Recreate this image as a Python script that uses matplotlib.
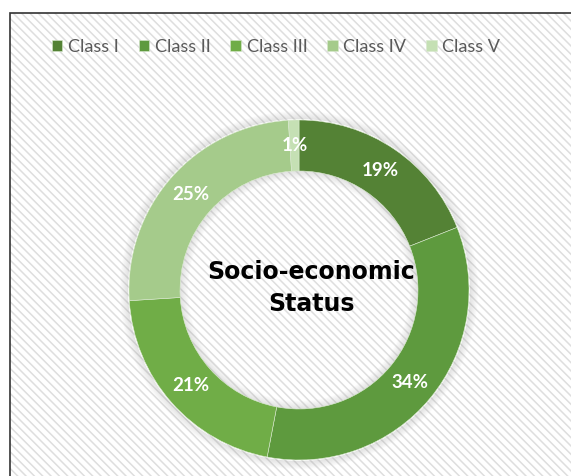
import matplotlib.pyplot as plt
from matplotlib.patches import Rectangle, Wedge

# socio-economic status split
classes = ['Class I', 'Class II', 'Class III', 'Class IV', 'Class V']
shares = [19, 34, 21, 25, 1]
colors = ['#548235', '#5e9a3e', '#70ad47', '#a5cb8b', '#c5e0b4']

plt.rcParams['hatch.linewidth'] = 1.1

fig = plt.figure(figsize=(5.71, 4.76), dpi=100)
ax = fig.add_axes([0, 0, 1, 1])
ax.set_xlim(0, 571)
ax.set_ylim(0, 476)
ax.set_aspect('equal')
ax.axis('off')

# striped chart area with dark border
ax.add_patch(Rectangle((10, -20), 600, 483, facecolor='white',
                       edgecolor='#dedede', hatch='\\\\\\\\', linewidth=0, zorder=0))
ax.add_patch(Rectangle((10, -20), 600, 483, facecolor='none',
                       edgecolor='#333333', linewidth=1.2, zorder=5))

cx, cy, r = 299, 186, 170

# soft shadow round the ring
for i in range(8):
    ax.add_patch(Wedge((cx, cy), r + 9 - i, 0, 360, width=1.0,
                       facecolor='#9a9a9a', alpha=0.035 * (i + 1), linewidth=0, zorder=1))
    ax.add_patch(Wedge((cx, cy), r * 0.7 - i, 0, 360, width=1.0,
                       facecolor='#9a9a9a', alpha=0.035 * (8 - i), linewidth=0, zorder=1))

wedges, texts, autotexts = ax.pie(
    shares, colors=colors, startangle=90, counterclock=False,
    center=(cx, cy), radius=r, frame=True,
    wedgeprops=dict(width=r * 0.3, edgecolor='#d9e8cf', linewidth=0.4),
    autopct='%d%%', pctdistance=0.85,
    textprops=dict(color='white', fontsize=13.5, fontweight='bold', family='Lato'))
for w in wedges:
    w.set_zorder(2)
for t in autotexts:
    t.set_zorder(3)

ax.set_xlim(0, 571)
ax.set_ylim(0, 476)
ax.axis('off')

ax.text(cx + 12, cy + 2, 'Socio-economic\nStatus', ha='center', va='center',
        fontsize=17, fontweight='bold', color='black', linespacing=1.45,
        family='DejaVu Sans', zorder=3)

leg = ax.legend(wedges, classes, loc='center', bbox_to_anchor=(276 / 571, 1 - 47 / 476),
                ncol=5, frameon=False, handlelength=0.6, handleheight=0.6,
                handletextpad=0.3, columnspacing=1.1, prop=dict(family='Lato', size=13))
for t in leg.get_texts():
    t.set_color('#595959')

fig.savefig('out.png', dpi=100)
